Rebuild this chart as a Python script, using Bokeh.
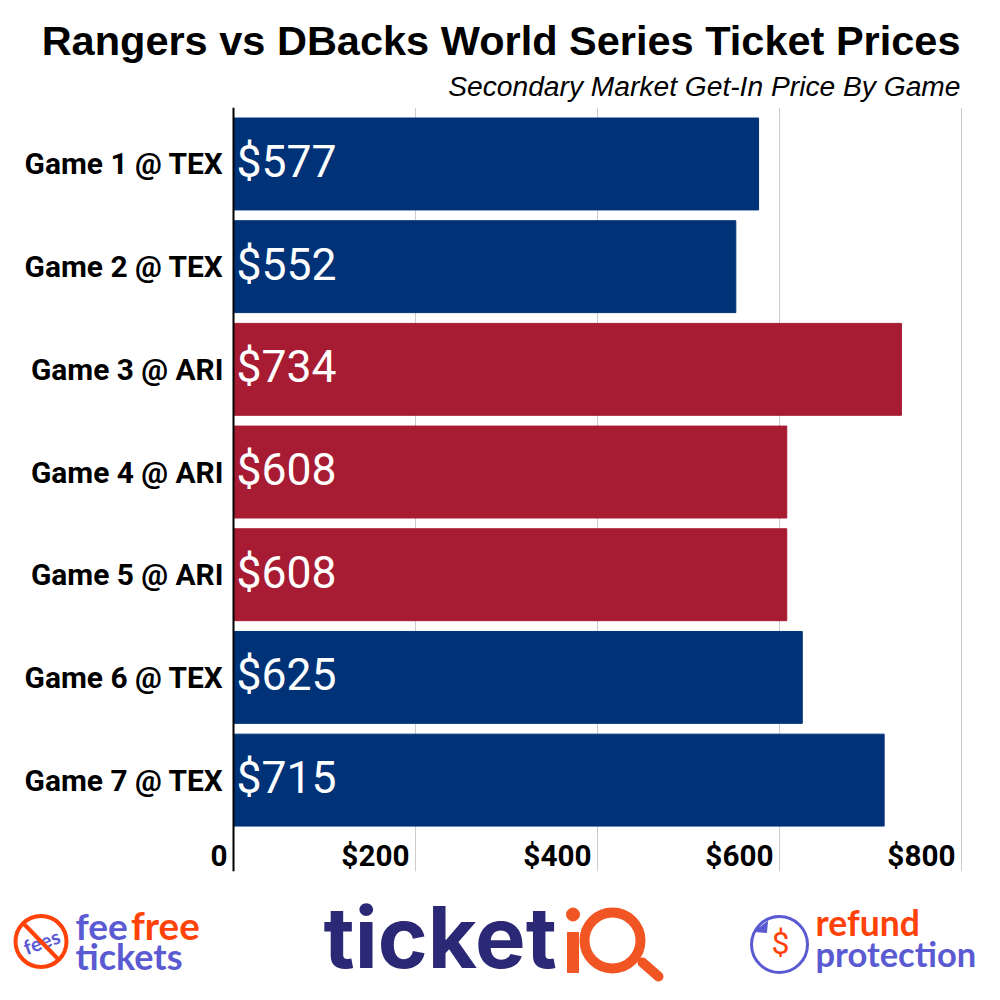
from bokeh.core.properties import value
from bokeh.embed import file_html
from bokeh.resources import INLINE
from bokeh.layouts import column
from bokeh.models import ColumnDataSource, FixedTicker, Range1d
from bokeh.plotting import figure

# ---- data ----
games = ["Game 1 @ TEX", "Game 2 @ TEX", "Game 3 @ ARI", "Game 4 @ ARI",
         "Game 5 @ ARI", "Game 6 @ TEX", "Game 7 @ TEX"]
prices = [577, 552, 734, 608, 608, 625, 715]
price_labels = ["$577", "$552", "$734", "$608", "$608", "$625", "$715"]
teams = ["TEX", "TEX", "ARI", "ARI", "ARI", "TEX", "TEX"]
tick_values = [0, 200, 400, 600, 800]
tick_labels = ["0", "$200", "$400", "$600", "$800"]
title_text = "Rangers vs DBacks World Series Ticket Prices"
subtitle_text = "Secondary Market Get-In Price By Game"

NAVY = "#003278"
RED = "#A71C32"
PURPLE = "#5A5AD2"
ORANGE = "#FF4208"
LOGO_NAVY = "#2B2875"
LOGO_ORANGE = "#F15524"
team_colors = {"TEX": NAVY, "ARI": RED}


def px_figure(height, top, bottom):
    f = figure(width=1000, height=height, output_backend="svg", toolbar_location=None,
               x_range=Range1d(0, 1000), y_range=Range1d(bottom, top),
               x_axis_type=None, y_axis_type=None, min_border=0, frame_align=False)
    f.outline_line_color = None
    f.grid.visible = False
    return f


# ---- header ----
head = px_figure(107, 0, 107)
head.text(x=[960], y=[39.5], text=[title_text], text_align="right", text_baseline="middle",
          text_font=value("Liberation Sans"), text_font_style="bold", text_font_size="41.5px",
          text_color="#000000")
head.text(x=[960], y=[85], text=[subtitle_text], text_align="right", text_baseline="middle",
          text_font=value("Liberation Sans"), text_font_style="italic", text_font_size="28.2px",
          text_color="#000000")

# ---- chart ----
idx = list(range(len(games)))
source = ColumnDataSource(dict(
    y=idx, price=prices, label=price_labels,
    color=[team_colors[t] for t in teams], zero=[0] * len(games)))

p = figure(frame_width=1000, frame_height=764, output_backend="svg", toolbar_location=None,
           x_range=Range1d(-233 / 0.91, 767 / 0.91), y_range=Range1d(6.89, -0.55),
           min_border=0, min_border_bottom=8, frame_align=False)
p.outline_line_color = None
p.xaxis.visible = False
p.xgrid.ticker = FixedTicker(ticks=tick_values)
p.xgrid.grid_line_color = "#cccccc"
p.xgrid.grid_line_width = 1
p.ygrid.visible = False

p.hbar(y="y", left="zero", right="price", height=0.895, color="color", source=source)
p.text(x="zero", y="y", text="label", source=source, x_offset=3, y_offset=-2, text_align="left",
       text_baseline="middle", text_font=value("Roboto"), text_font_size="44.5px",
       text_color="#ffffff")

yax = p.yaxis[0]
yax.fixed_location = 0
yax.ticker = FixedTicker(ticks=idx)
yax.major_label_overrides = {i: g for i, g in zip(idx, games)}
yax.major_tick_line_color = None
yax.minor_tick_line_color = None
yax.major_tick_in = 0
yax.major_tick_out = 0
yax.axis_line_color = "#000000"
yax.axis_line_width = 2
yax.major_label_standoff = 10
yax.major_label_text_font = "Roboto"
yax.major_label_text_font_style = "bold"
yax.major_label_text_font_size = "29.9px"
yax.major_label_text_color = "#000000"

tick_src = ColumnDataSource(dict(x=tick_values, y=[6.735] * len(tick_values), label=tick_labels))
p.text(x="x", y="y", text="label", source=tick_src, x_offset=-6, text_align="right",
       text_baseline="middle", text_font=value("Roboto"), text_font_style="bold",
       text_font_size="29.7px", text_color="#000000")

# ---- footer logos ----
foot = px_figure(121, 879, 1000)


def word(x, y, s, size, color, font="Lato", style="bold", align="left", angle=0):
    foot.text(x=[x], y=[y - 0.41 * size], text=[s], text_font=value(font), text_font_style=style,
              text_font_size=f"{size}px", text_color=color, text_align=align,
              text_baseline="alphabetic", angle=angle, angle_units="deg")


# fee free tickets
foot.scatter(x=[40.5], y=[941], size=51, marker="circle", fill_color=None,
             line_color=ORANGE, line_width=4)
word(41, 949, "fees", 20, PURPLE, align="center", angle=20)
foot.line(x=[24, 57], y=[924, 958], line_color=ORANGE, line_width=4)
word(75, 940, "fee", 37, PURPLE)
word(130.5, 940, "free", 38.5, ORANGE)
word(75, 970, "tickets", 36, PURPLE)

# ticketiQ
word(323, 972, "ticket", 85, LOGO_NAVY, font="Inter")
foot.vbar(x=[572.5], bottom=[972], top=[932], width=11, color=LOGO_ORANGE)
foot.scatter(x=[572.5], y=[914], size=13, marker="circle", color=LOGO_ORANGE)
foot.scatter(x=[612], y=[940], size=56, marker="circle", fill_color=None,
             line_color=LOGO_ORANGE, line_width=10)
foot.line(x=[642, 658], y=[962, 976], line_color=LOGO_ORANGE, line_width=10, line_cap="round")

# refund protection
foot.scatter(x=[779], y=[944], size=56, marker="circle", fill_color=None,
             line_color=PURPLE, line_width=3)
foot.patch(x=[754, 767, 766], y=[931, 921, 932], color=PURPLE)
word(780, 956, "$", 32, ORANGE, font="Roboto", style="normal", align="center")
word(815, 937, "refund", 35.5, ORANGE)
word(815, 967, "protection", 34.5, PURPLE)

layout = column(head, p, foot, spacing=0)
open("out.html", "w").write(file_html(layout, INLINE))
